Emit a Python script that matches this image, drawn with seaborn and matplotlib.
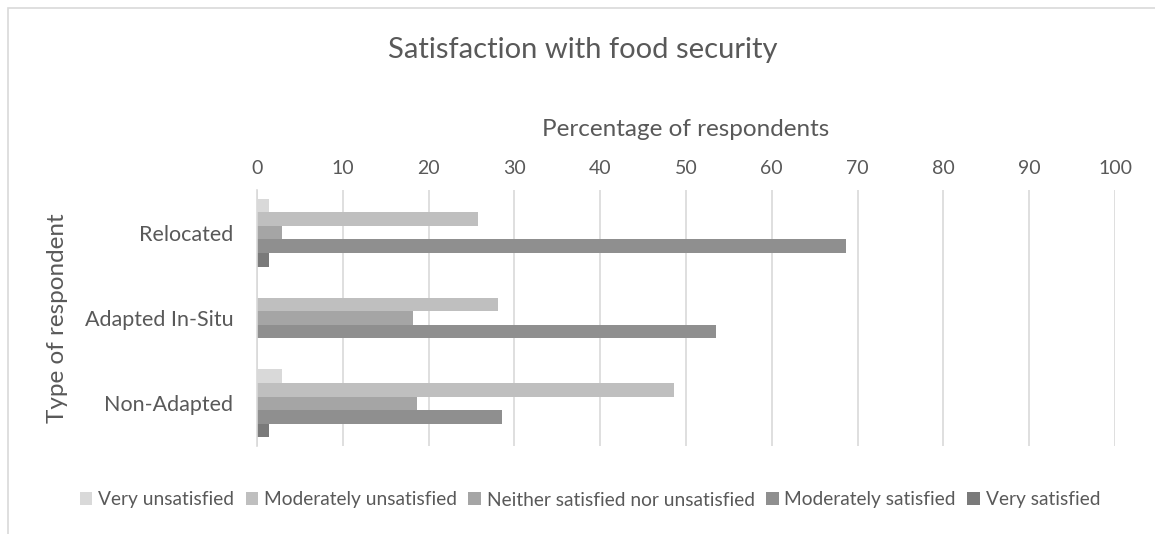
import matplotlib
matplotlib.use("Agg")
import matplotlib.pyplot as plt
import seaborn as sns
import pandas as pd
from matplotlib.patches import Rectangle

categories = ["Relocated", "Adapted In-Situ", "Non-Adapted"]
levels = ["Very unsatisfied", "Moderately unsatisfied",
          "Neither satisfied nor unsatisfied", "Moderately satisfied", "Very satisfied"]
very_unsatisfied = [1.4, 0.0, 2.9]
moderately_unsatisfied = [25.7, 28.1, 48.6]
neither = [2.9, 18.2, 18.6]
moderately_satisfied = [68.6, 53.5, 28.6]
very_satisfied = [1.4, 0.0, 1.4]
x_ticks = [0, 10, 20, 30, 40, 50, 60, 70, 80, 90, 100]
colors = ["#d9d9d9", "#bfbfbf", "#a5a5a5", "#8f8f8f", "#7a7a7a"]

series = [very_unsatisfied, moderately_unsatisfied, neither, moderately_satisfied, very_satisfied]
rows = []
for lvl, vals in zip(levels, series):
    for cat, v in zip(categories, vals):
        rows.append({"Type": cat, "Level": lvl, "Value": v})
df = pd.DataFrame(rows)

sns.set_theme(style="white")
FONT = ["Lato", "DejaVu Sans"]
plt.rcParams["font.family"] = FONT
TXT = "#595959"

fig = plt.figure(figsize=(11.55, 5.34), dpi=100)
W, H = 1155, 534
left, right, top, bottom = 257, 1115, 190, 446
ax = fig.add_axes([left / W, 1 - bottom / H, (right - left) / W, (bottom - top) / H])

sns.barplot(data=df, y="Type", x="Value", hue="Level", order=categories,
            hue_order=levels, palette=colors, orient="h", width=0.8,
            linewidth=0, saturation=1, ax=ax)

ax.set_xlim(0, 100)
ax.set_ylim(2.5, -0.5)
ax.set_xticks(x_ticks)
ax.xaxis.tick_top()
ax.xaxis.set_label_position("top")
ax.tick_params(axis="x", length=0, labelsize=14, labelcolor=TXT, pad=9)
ax.tick_params(axis="y", length=0, labelsize=15.5, labelcolor=TXT, pad=17)
ax.grid(axis="x", color="#d9d9d9", linewidth=1.2)
ax.set_axisbelow(True)
for s in ["top", "right", "bottom"]:
    ax.spines[s].set_visible(False)
ax.spines["left"].set_color("#d9d9d9")
ax.spines["left"].set_linewidth(1.2)

ax.set_xlabel("Percentage of respondents", fontsize=17.5, color=TXT, labelpad=18)
ax.set_ylabel("Type of respondent", fontsize=17.5, color=TXT, labelpad=12)

fig.suptitle("Satisfaction with food security", fontsize=21, color=TXT,
             x=583 / W, y=1 - 50 / H, va="center")

handles, labels = ax.get_legend_handles_labels()
ax.legend_.remove()
fig.legend(handles, labels, loc="center", bbox_to_anchor=(590 / W, 1 - 500 / H),
           ncol=5, frameon=False, fontsize=13.8, labelcolor=TXT,
           handlelength=0.65, handleheight=0.65, handletextpad=0.3,
           columnspacing=0.6)

fig.patches.append(Rectangle((8 / W, -0.1), 1.2, 1 - 8 / H + 0.1,
                             transform=fig.transFigure, fill=False,
                             edgecolor="#d9d9d9", linewidth=1.2))

fig.savefig("out.png", dpi=100, facecolor="white")
